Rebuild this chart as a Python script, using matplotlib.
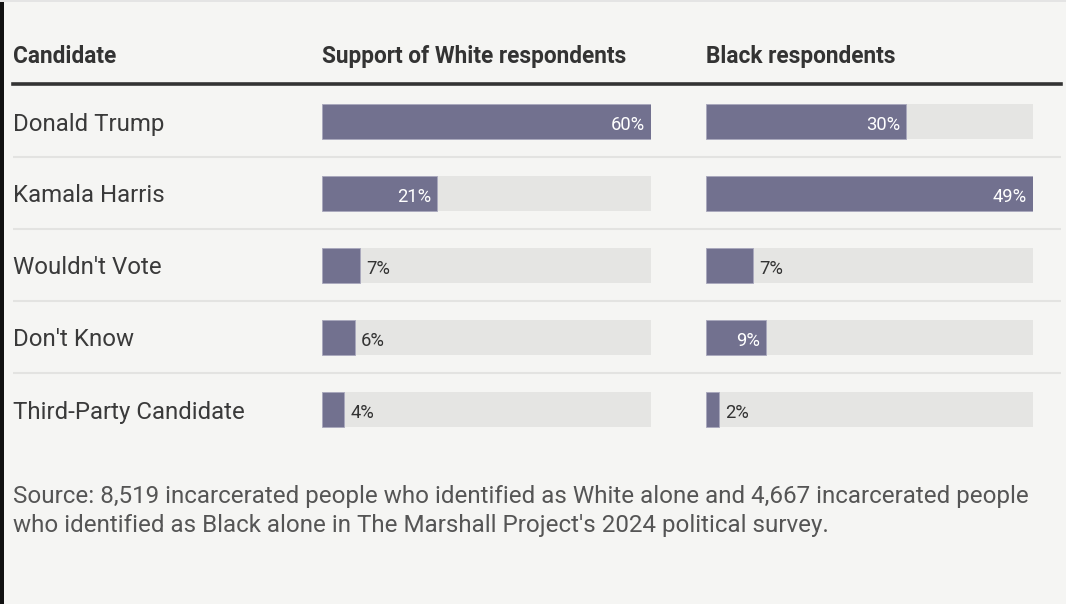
import matplotlib.pyplot as plt
from matplotlib.patches import Rectangle

# data
candidates = ["Donald Trump", "Kamala Harris", "Wouldn't Vote", "Don't Know", "Third-Party Candidate"]
white_pct = [60, 21, 7, 6, 4]
black_pct = [30, 49, 7, 9, 2]
headers = ["Candidate", "Support of White respondents", "Black respondents"]
source_lines = ["Source: 8,519 incarcerated people who identified as White alone and 4,667 incarcerated people",
                "who identified as Black alone in The Marshall Project's 2024 political survey."]

BG = '#f5f5f3'
TRACK = '#e5e5e3'
BAR = '#72718f'
DARK = '#333333'
FONT = 'Roboto'

W, H = 1066, 604
fig = plt.figure(figsize=(W / 100, H / 100), dpi=100)
fig.patch.set_facecolor(BG)

# frame decorations: dark left edge and light top strip
fig.add_artist(Rectangle((0, 0), 4 / W, 1, transform=fig.transFigure, color='#111111', lw=0))
fig.add_artist(Rectangle((0, 1 - 2 / H), 1, 2 / H, transform=fig.transFigure, color='#e4e4e4', lw=0))

row_h = 72
top_px, bot_px = 85, 85 + row_h * len(candidates)


def px_axes(x0, x1):
    return fig.add_axes([x0 / W, 1 - bot_px / H, (x1 - x0) / W, (bot_px - top_px) / H])


# table axes: row labels, separators, header rule
tab = px_axes(13, 1061)
tab.set_xlim(0, 1)
tab.set_ylim(len(candidates) - 0.5, -0.5)
tab.axis('off')
for i in range(1, len(candidates)):
    tab.axhline(i - 0.5, color='#e3e3e1', lw=1.5)
tab.axhline(-0.5 - 1.2 / row_h, color=DARK, lw=2.6, clip_on=False)
for i, name in enumerate(candidates):
    tab.text(0, i + 9.5 / row_h, name, va='baseline', ha='left', fontsize=17.3, color='#3a3a3a', family=FONT)
hdr_y = -0.5 - (85 - 63) / row_h
tab.text(0, hdr_y, headers[0], va='baseline', ha='left', fontsize=16.3, fontweight='bold',
         color=DARK, family=FONT, clip_on=False)


def bar_column(x0, x1, values, header):
    ax = px_axes(x0, x1)
    vmax = max(values)
    y = list(range(len(values)))
    ax.barh(y, [vmax] * len(values), height=35 / row_h, color=TRACK, lw=0)
    ax.barh(y, values, height=35 / row_h, color=BAR, edgecolor='#a9a8bd', lw=0.6)
    ax.set_xlim(0, vmax)
    ax.set_ylim(len(values) - 0.5, -0.5)
    ax.axis('off')
    width_px = x1 - x0
    for i, v in enumerate(values):
        if v / vmax * width_px > 50:
            ax.annotate(f'{v}%', (v, i), xytext=(-4.5, -6.5), textcoords='offset points',
                        ha='right', va='baseline', fontsize=13.2, color='white', family=FONT)
        else:
            ax.annotate(f'{v}%', (v, i), xytext=(4.5, -6.5), textcoords='offset points',
                        ha='left', va='baseline', fontsize=13.2, color=DARK, family=FONT)
    ax.text(0, hdr_y, header, va='baseline', ha='left', fontsize=16.3, fontweight='bold',
            color=DARK, family=FONT, clip_on=False)
    return ax


bar_column(322, 651, white_pct, headers[1])
bar_column(706, 1033, black_pct, headers[2])

for k, line in enumerate(source_lines):
    fig.text(13 / W, 1 - (503 + 29 * k) / H, line, va='baseline', ha='left', fontsize=17.4,
             color='#555555', family=FONT)

fig.savefig('out.png', dpi=100, facecolor=BG)
